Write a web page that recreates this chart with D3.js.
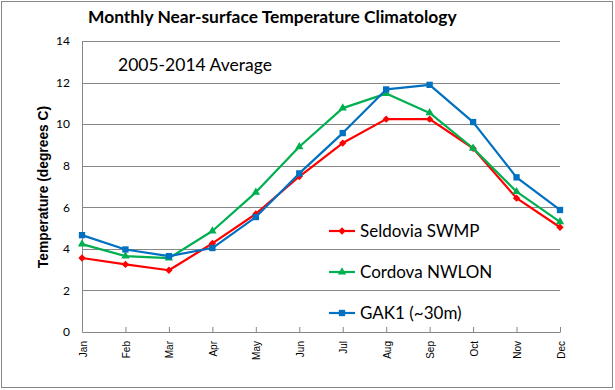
<!DOCTYPE html>
<html>
<head>
<meta charset="utf-8">
<script src="https://cdn.jsdelivr.net/npm/d3@7"></script>
<style>
  body { margin: 0; background: #fff; }
  svg text { fill: #000; }
</style>
</head>
<body>
<div id="chart"></div>
<script>
// data
const months = ["Jan", "Feb", "Mar", "Apr", "May", "Jun", "Jul", "Aug", "Sep", "Oct", "Nov", "Dec"];
const seldovia = [3.56, 3.25, 2.97, 4.26, 5.68, 7.48, 9.09, 10.24, 10.24, 8.84, 6.44, 5.04];
const cordova  = [4.23, 3.65, 3.55, 4.86, 6.72, 8.91, 10.77, 11.47, 10.54, 8.84, 6.75, 5.30];
const gak1     = [4.66, 3.97, 3.65, 4.04, 5.53, 7.63, 9.57, 11.67, 11.89, 10.10, 7.44, 5.87];
const yTicks = [0, 2, 4, 6, 8, 10, 12, 14];

const series = [
    { name: "Seldovia SWMP", values: seldovia, color: "#ff0000", marker: "diamond" },
    { name: "Cordova NWLON", values: cordova,  color: "#00b050", marker: "triangle" },
    { name: "GAK1 (~30m)",   values: gak1,     color: "#0070c0", marker: "square" }
];

const W = 615, H = 390;
const m = { top: 41, right: 55, bottom: 58, left: 82 };
const innerW = W - m.left - m.right;
const innerH = H - m.top - m.bottom;
const grey = "#868686";

const svg = d3.select("#chart").append("svg")
    .attr("width", W)
    .attr("height", H);

// outer chart border
svg.append("rect")
    .attr("x", 1.5).attr("y", 1.5)
    .attr("width", 611).attr("height", 386)
    .attr("fill", "#fff")
    .attr("stroke", grey);

const plot = svg.append("g").attr("transform", `translate(${m.left},${m.top})`);

const x = d3.scalePoint().domain(months).range([0, innerW]);
const y = d3.scaleLinear().domain([0, 14]).range([innerH, 0]);

// gridlines
plot.append("g").selectAll("line")
    .data(yTicks.filter(d => d > 0))
    .join("line")
        .attr("x1", 0).attr("x2", innerW)
        .attr("y1", d => Math.round(y(d)) + 0.5)
        .attr("y2", d => Math.round(y(d)) + 0.5)
        .attr("stroke", grey);

// y axis
const yAxis = plot.append("g")
    .call(d3.axisLeft(y).tickValues(yTicks).tickSize(0).tickPadding(12));
yAxis.select(".domain").attr("stroke", grey);
yAxis.selectAll("text")
    .attr("font-family", "Lato, 'Open Sans', sans-serif")
    .attr("font-size", 12);

// x axis, ticks pointing inward
const xAxis = plot.append("g")
    .attr("transform", `translate(0,${innerH})`)
    .call(d3.axisBottom(x).tickSizeInner(-5).tickSizeOuter(0).tickPadding(0));
xAxis.select(".domain").attr("stroke", grey);
xAxis.selectAll(".tick line").attr("stroke", grey);
xAxis.selectAll("text")
    .attr("font-family", "'Liberation Sans', Arial, sans-serif")
    .attr("font-size", 10)
    .attr("text-anchor", "end")
    .attr("dy", null)
    .attr("y", 0)
    .attr("transform", "translate(4,9) rotate(-90)");

// lines and markers
const line = d3.line()
    .x((d, i) => x(months[i]))
    .y(d => y(d));

const sym = {
    diamond:  d3.symbol().type(d3.symbolDiamond2).size(34),
    triangle: d3.symbol().type(d3.symbolTriangle).size(30),
    square:   d3.symbol().type(d3.symbolSquare).size(40)
};

series.forEach(s => {
    plot.append("path")
        .datum(s.values)
        .attr("fill", "none")
        .attr("stroke", s.color)
        .attr("stroke-width", 2.2)
        .attr("stroke-linejoin", "round")
        .attr("d", line);
    plot.append("g").selectAll("path")
        .data(s.values)
        .join("path")
            .attr("transform", (d, i) => `translate(${x(months[i])},${y(d)})`)
            .attr("d", sym[s.marker])
            .attr("fill", s.color);
});

// legend
const legend = svg.append("g").attr("transform", "translate(329,0)");
const legendY = [231, 272, 313];
series.forEach((s, i) => {
    const g = legend.append("g").attr("transform", `translate(0,${legendY[i]})`);
    g.append("line")
        .attr("x1", 0).attr("x2", 26)
        .attr("stroke", s.color).attr("stroke-width", 2.2);
    g.append("path")
        .attr("transform", "translate(13,0)")
        .attr("d", sym[s.marker])
        .attr("fill", s.color);
    g.append("text")
        .attr("x", 31).attr("y", 6)
        .attr("font-family", "Lato, 'Open Sans', sans-serif")
        .attr("font-size", 17)
        .text(s.name);
});

// titles
svg.append("text")
    .attr("x", 88).attr("y", 23)
    .attr("font-family", "Lato, 'Open Sans', sans-serif")
    .attr("font-weight", "bold")
    .attr("font-size", 17.4)
    .text("Monthly Near-surface Temperature Climatology");

svg.append("text")
    .attr("x", 118).attr("y", 71)
    .attr("font-family", "Lato, 'Open Sans', sans-serif")
    .attr("font-size", 17.5)
    .text("2005-2014 Average");

svg.append("text")
    .attr("transform", `translate(48,187) rotate(-90)`)
    .attr("text-anchor", "middle")
    .attr("font-family", "'Liberation Sans', Arial, sans-serif")
    .attr("font-weight", "bold")
    .attr("font-size", 13.8)
    .text("Temperature (degrees C)");
</script>
</body>
</html>
